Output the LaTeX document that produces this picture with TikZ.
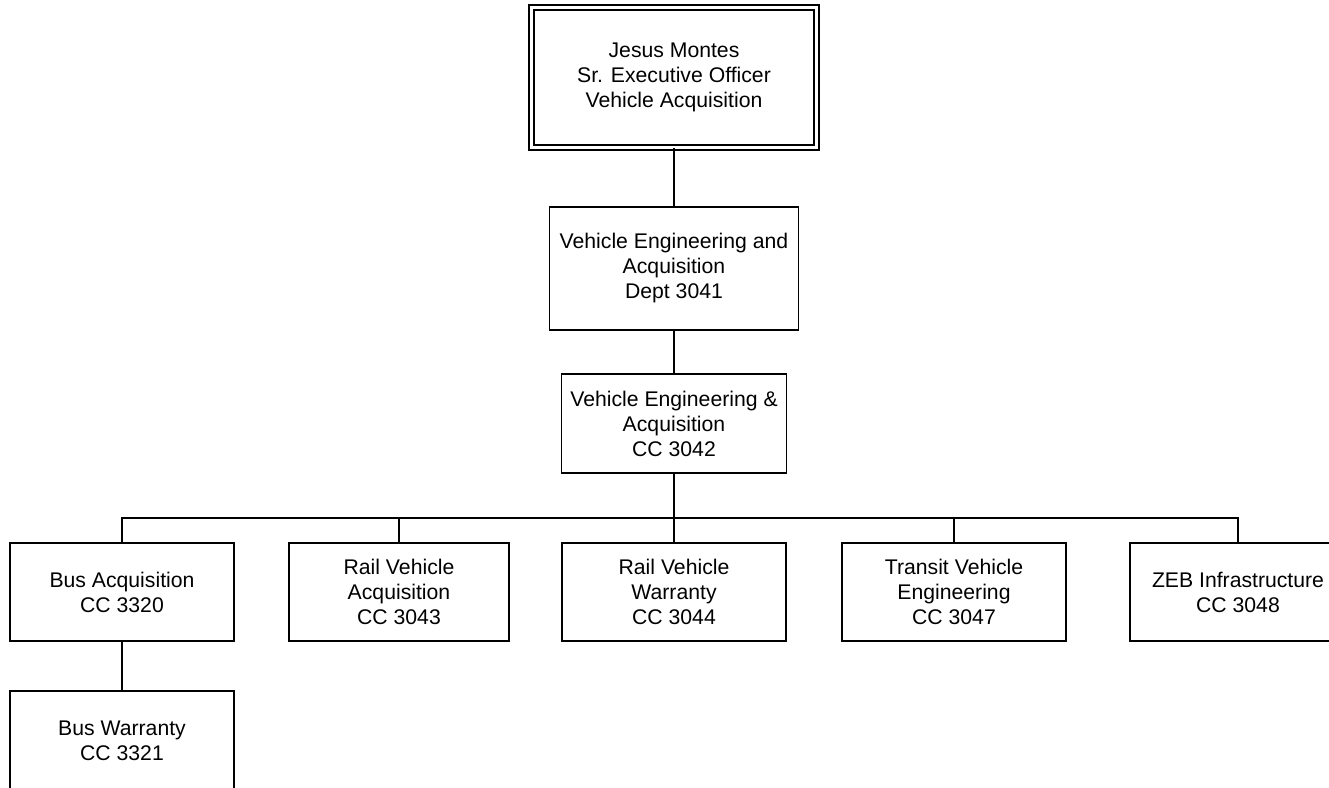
\documentclass[tikz,border=0pt]{standalone}
\usepackage{fontspec}
\setmainfont{Liberation Sans}
\begin{document}
\begin{tikzpicture}[x=1pt,y=-1pt,
  box/.style={draw=black,line width=1.6pt,fill=white,align=center,inner sep=0pt,
    font=\fontsize{21.2}{25}\selectfont,minimum width=224pt,minimum height=98pt},
  topbox/.style={box,double,line width=1.3pt,double distance=3.7pt},
  link/.style={draw=black,line width=1.6pt}]
\useasboundingbox (0,0) rectangle (1329,787);
\clip (0,0) rectangle (1329,787);
\fill[white] (0,0) rectangle (1329,787);
\node[topbox,minimum width=285pt,minimum height=140pt] (ceo) at (674,77.5) {Jesus Montes\\Sr. Executive Officer\\Vehicle Acquisition};
\node[box,minimum width=249pt,minimum height=123pt] (dept) at (674,268.5) {Vehicle Engineering and\\Acquisition\\Dept 3041};
\node[box,minimum width=225pt,minimum height=99pt] (cc) at (674,423.5) {Vehicle Engineering \&\\Acquisition\\CC 3042};
\node[box] (bus) at (122,592) {Bus Acquisition\\CC 3320};
\node[box,minimum width=220pt] (rva) at (399,592) {Rail Vehicle\\Acquisition\\CC 3043};
\node[box] (rvw) at (674,592) {Rail Vehicle\\Warranty\\CC 3044};
\node[box] (tve) at (954,592) {Transit Vehicle\\Engineering\\CC 3047};
\node[box,minimum width=216pt] (zeb) at (1238,592) {ZEB Infrastructure\\CC 3048};
\node[box,minimum height=99pt] (bw) at (122,740.5) {Bus Warranty\\CC 3321};
\coordinate (hub) at (674,518);
\draw[link] (ceo.south) -- (dept.north);
\draw[link] (dept.south) -- (cc.north);
\draw[link] (cc.south) -- (hub);
\draw[link] (hub) -| (bus.north);
\draw[link] (hub) -| (rva.north);
\draw[link] (hub) -- (rvw.north);
\draw[link] (hub) -| (tve.north);
\draw[link] (hub) -| (zeb.north);
\draw[link] (bus.south) -- (bw.north);
\end{tikzpicture}
\end{document}
